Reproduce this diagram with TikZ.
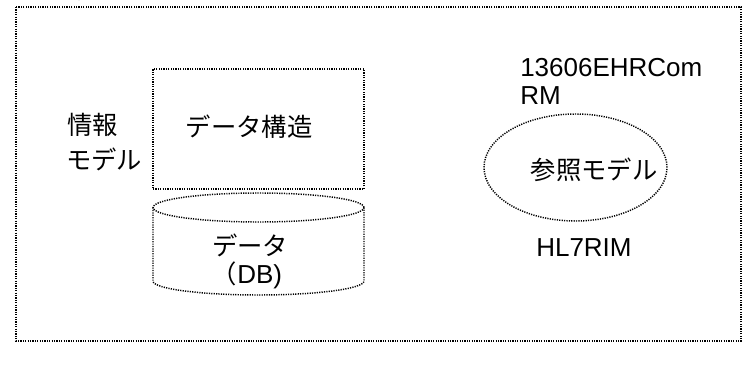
\documentclass[tikz,border=0pt]{standalone}
\usepackage{fontspec}
\setmainfont{Liberation Sans}
\newfontfamily\jp{Noto Sans CJK JP}
\usetikzlibrary{shapes.geometric}
\begin{document}
\begin{tikzpicture}[x=0.75pt,y=-0.75pt,
  dotline/.style={line width=1.1pt,dash pattern=on 0.9pt off 0.9pt},
  jptext/.style={font=\jp\fontsize{19pt}{23pt}\selectfont,inner sep=0pt,anchor=center},
  lattext/.style={font=\fontsize{19.5pt}{23pt}\selectfont,inner sep=0pt,anchor=base west}]
\useasboundingbox (0,0) rectangle (748,367);
\fill[white] (0,0) rectangle (748,367);
% clipped title at the top edge
\begin{scope}
\clip (0,0) rectangle (748,367);
\node[jptext,anchor=base west] (title) at (40,-1) {情報システム};
\end{scope}
% outer frame
\draw[dotline] (16,7) rectangle (741,341);
% data structure box
\node[draw,dotline,minimum width=211*0.75pt,minimum height=120*0.75pt,inner sep=0pt] (struct) at (258.5,129) {};
\node[jptext] (structlbl) at (249,127) {データ構造};
% cylinder
\coordinate (cyltopc) at (258.5,207.5);
\draw[dotline] (cyltopc) ellipse [x radius=105.5, y radius=14.5];
\draw[dotline] (153,207.5) -- (153,281) arc[start angle=180,end angle=0,x radius=105.5,y radius=14] -- (364,207.5);
\node[jptext] (datalbl) at (250,245) {データ};
\node[inner sep=0pt,anchor=center] (dblbl) at (247,275) {\jp\fontsize{19pt}{23pt}\selectfont （\fontspec{Liberation Sans}\fontsize{19.5pt}{23pt}\selectfont DB)};
% info model label
\node[jptext,anchor=west] (info1) at (67,125) {情報};
\node[jptext,anchor=west] (info2) at (66,159) {モデル};
% right side
\node[lattext] (iso) at (520,77) {13606EHRCom};
\node[lattext] (rm) at (520,105) {RM};
\node[draw,dotline,ellipse,minimum width=183*0.75pt,minimum height=107*0.75pt,inner sep=0pt] (refm) at (575.5,167.5) {};
\node[jptext] (refmlbl) at (594,170) {参照モデル};
\node[lattext] (hl7) at (536,256) {HL7RIM};
\end{tikzpicture}
\end{document}
